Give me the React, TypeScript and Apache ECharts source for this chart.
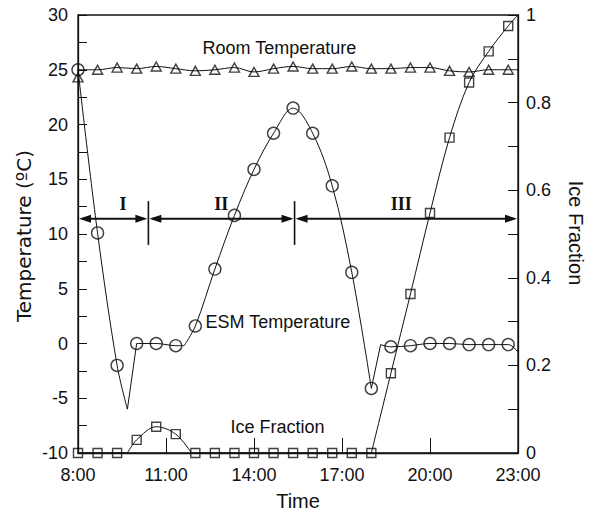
import React, { useEffect, useRef } from "react";
import * as echarts from "echarts";

// ---------- data ----------
const xTickLabels = ["8:00", "11:00", "14:00", "17:00", "20:00", "23:00"];

const markerTimes = [
  "8:00", "8:40", "9:20", "10:00", "10:40", "11:20", "12:00", "12:40",
  "13:20", "14:00", "14:40", "15:20", "16:00", "16:40", "17:20", "18:00",
  "18:40", "19:20", "20:00", "20:40", "21:20", "22:00", "22:40",
];

const roomTemp = [
  24.3, 25.0, 25.2, 25.1, 25.3, 25.1, 24.9, 25.0, 25.2, 24.8, 25.1, 25.3,
  25.1, 25.1, 25.3, 25.1, 25.1, 25.2, 25.2, 24.9, 24.8, 25.0, 25.0,
];

const esmTemp = [
  25.0, 10.1, -2.0, 0.0, 0.0, -0.2, 1.6, 6.8, 11.7, 15.9, 19.2, 21.5,
  19.2, 14.4, 6.5, -4.1, -0.3, -0.2, 0.0, 0.0, -0.1, -0.1, -0.1,
];

const iceFraction = [
  0, 0, 0, 0.03, 0.06, 0.043, 0, 0, 0, 0, 0, 0,
  0, 0, 0, 0, 0.182, 0.363, 0.548, 0.72, 0.846, 0.917, 0.975,
];

// curve pieces (smooth inside a piece, corners between pieces)
const roomCurve: [string, number][][] = [
  [
    ["8:00", 25.0], ["8:40", 25.0], ["9:20", 25.2], ["10:00", 25.1], ["10:40", 25.3],
    ["11:20", 25.1], ["12:00", 24.9], ["12:40", 25.0], ["13:20", 25.2], ["14:00", 24.8],
    ["14:40", 25.1], ["15:20", 25.3], ["16:00", 25.1], ["16:40", 25.1], ["17:20", 25.3],
    ["18:00", 25.1], ["18:40", 25.1], ["19:20", 25.2], ["20:00", 25.2], ["20:40", 24.9],
    ["21:20", 24.8], ["22:00", 25.0], ["22:40", 25.0], ["23:00", 25.0],
  ],
];

const esmCurve: [string, number][][] = [
  [["8:00", 25.0], ["8:40", 10.1], ["9:20", -2.0], ["9:41", -6.0]],
  [["9:41", -6.0], ["10:00", 0.0]],
  [["10:00", 0.0], ["10:40", 0.0], ["11:20", -0.2], ["11:37", -0.2]],
  [
    ["11:37", -0.2], ["12:00", 1.6], ["12:40", 6.8], ["13:20", 11.7], ["14:00", 15.9],
    ["14:40", 19.2], ["15:20", 21.5], ["16:00", 19.2], ["16:40", 14.4], ["17:20", 6.5],
    ["18:00", -4.1],
  ],
  [["18:00", -4.1], ["18:19", -0.1]],
  [
    ["18:19", -0.1], ["18:40", -0.3], ["19:20", -0.2], ["20:00", 0.0], ["20:40", 0.0],
    ["21:20", -0.1], ["22:00", -0.1], ["22:40", -0.1], ["23:00", -0.8],
  ],
];

const iceCurve: [string, number][][] = [
  [["8:00", 0], ["9:41", 0]],
  [["9:41", 0], ["10:00", 0.03], ["10:40", 0.06], ["11:20", 0.043], ["11:52", 0]],
  [["11:52", 0], ["18:00", 0]],
  [
    ["18:00", 0], ["18:40", 0.182], ["19:20", 0.363], ["20:00", 0.548], ["20:40", 0.72],
    ["21:20", 0.846], ["22:00", 0.917], ["22:40", 0.975], ["23:00", 1.0],
  ],
];

// ---------- helpers ----------
const parseT = (s: string) => {
  const [h, m] = s.split(":").map(Number);
  return h - 8 + m / 60;
};

const FONT = "Liberation Sans, Arial, sans-serif";
const WIDE = "DejaVu Sans, Verdana, sans-serif";
const SERIF = "Liberation Serif, Times New Roman, serif";
const INK = "#111";

function curveSeries(pieces: [string, number][][], yAxisIndex: number) {
  return pieces.map((piece) => ({
    type: "line",
    yAxisIndex,
    data: piece.map(([t, v]) => [parseT(t), v]),
    showSymbol: false,
    symbol: "none",
    smooth: piece.length > 2 ? 0.35 : false,
    lineStyle: { color: INK, width: 1 },
    z: 2,
    silent: true,
  }));
}

function markerSeries(values: number[], yAxisIndex: number, symbol: string, size: any) {
  return {
    type: "scatter",
    yAxisIndex,
    data: markerTimes.map((t, i) => [parseT(t), values[i]]),
    symbol,
    symbolSize: size,
    itemStyle: { color: "rgba(0,0,0,0)", borderColor: INK, borderWidth: 1.4 },
    z: 3,
    silent: true,
  };
}

export default function App() {
  const ref = useRef<HTMLDivElement>(null);

  useEffect(() => {
    if (!ref.current) return;
    const chart = echarts.init(ref.current, undefined, { renderer: "svg" });
    const axisLine = { show: true, onZero: false, lineStyle: { color: INK, width: 1.3 } };
    const labelStyle = { color: INK, fontSize: 18, fontFamily: FONT };

    chart.setOption({
      animation: false,
      grid: {
        left: 78,
        right: 81,
        top: 15,
        bottom: 63,
        show: true,
        borderColor: INK,
        borderWidth: 1.3,
        backgroundColor: "transparent",
      },
      xAxis: {
        type: "value",
        min: 0,
        max: 15,
        interval: 3,
        axisLine,
        axisTick: { show: true, inside: true, length: 15, lineStyle: { color: INK, width: 1 } },
        axisLabel: {
          ...labelStyle,
          margin: 13,
          formatter: (v: number) => xTickLabels[Math.round(v / 3)] ?? "",
        },
        splitLine: { show: false },
      },
      yAxis: [
        {
          type: "value",
          min: -10,
          max: 30,
          interval: 5,
          position: "left",
          axisLine,
          axisTick: { show: true, inside: true, length: 9, lineStyle: { color: INK, width: 1 } },
          minorTick: { show: true, splitNumber: 2, length: 9, lineStyle: { color: INK, width: 1 } },
          axisLabel: { ...labelStyle, margin: 10 },
          splitLine: { show: false },
          minorSplitLine: { show: false },
        },
        {
          type: "value",
          min: 0,
          max: 1,
          interval: 0.2,
          position: "right",
          axisLine,
          axisTick: { show: true, inside: true, length: 10, lineStyle: { color: INK, width: 1 } },
          minorTick: { show: true, splitNumber: 2, length: 10, lineStyle: { color: INK, width: 1 } },
          axisLabel: {
            ...labelStyle,
            margin: 8,
            formatter: (v: number) => String(+v.toFixed(1)),
          },
          splitLine: { show: false },
          minorSplitLine: { show: false },
        },
      ],
      series: [
        ...curveSeries(roomCurve, 0),
        ...curveSeries(esmCurve, 0),
        ...curveSeries(iceCurve, 1),
        markerSeries(roomTemp, 0, "triangle", [10, 9]),
        markerSeries(esmTemp, 0, "circle", 12),
        markerSeries(iceFraction, 1, "rect", 9),
      ],
    });

    const P = (t: string, v: number) =>
      chart.convertToPixel({ xAxisIndex: 0, yAxisIndex: 0 }, [parseT(t), v]) as number[];

    const graphics: any[] = [];
    const txt = (text: string, t: string, v: number, align: string, font = FONT, size = 18, weight = "normal") => {
      const [x, y] = P(t, v);
      graphics.push({
        type: "text",
        x,
        y,
        silent: true,
        style: {
          text,
          fill: INK,
          font: `${weight} ${size}px ${font}`,
          textAlign: align,
          textVerticalAlign: "middle",
        },
      });
    };

    txt("Room Temperature", "14:52", 27.0, "center");
    txt("ESM Temperature", "12:21", 2.0, "left");
    txt("Ice Fraction", "13:12", -7.6, "left");
    txt("I", "9:32", 12.75, "center", SERIF, 18, "bold");
    txt("II", "12:53", 12.75, "center", SERIF, 18, "bold");
    txt("III", "19:01", 12.75, "center", SERIF, 18, "bold");

    // phase arrows
    const arrowY = 11.4;
    const ranges: [string, string][] = [
      ["8:00", "10:24"],
      ["10:24", "15:23"],
      ["15:23", "23:00"],
    ];
    ranges.forEach(([a, b]) => {
      const [x1, y] = P(a, arrowY);
      const [x2] = P(b, arrowY);
      const head = 12;
      const hw = 4;
      graphics.push({
        type: "line",
        silent: true,
        shape: { x1: x1 + 4, y1: y, x2: x2 - 4, y2: y },
        style: { stroke: INK, lineWidth: 2 },
      });
      graphics.push({
        type: "polygon",
        silent: true,
        shape: { points: [[x1 + 1, y], [x1 + 1 + head, y - hw], [x1 + 1 + head, y + hw]] },
        style: { fill: INK },
      });
      graphics.push({
        type: "polygon",
        silent: true,
        shape: { points: [[x2 - 1, y], [x2 - 1 - head, y - hw], [x2 - 1 - head, y + hw]] },
        style: { fill: INK },
      });
    });
    ["10:24", "15:23"].forEach((t) => {
      const [x, yTop] = P(t, 13.0);
      const [, yBot] = P(t, 9.0);
      graphics.push({
        type: "line",
        silent: true,
        shape: { x1: x, y1: yTop, x2: x, y2: yBot },
        style: { stroke: INK, lineWidth: 1.6 },
      });
    });

    // axis titles
    graphics.push({
      type: "text",
      x: 24,
      y: 236,
      rotation: Math.PI / 2,
      silent: true,
      style: {
        text: "Temperature (ºC)",
        fill: INK,
        font: `normal 20px ${WIDE}`,
        textAlign: "center",
        textVerticalAlign: "middle",
      },
    });
    graphics.push({
      type: "text",
      x: 576,
      y: 233,
      rotation: -Math.PI / 2,
      silent: true,
      style: {
        text: "Ice Fraction",
        fill: INK,
        font: `normal 20px ${FONT}`,
        textAlign: "center",
        textVerticalAlign: "middle",
      },
    });
    graphics.push({
      type: "text",
      x: 298,
      y: 501,
      silent: true,
      style: {
        text: "Time",
        fill: INK,
        font: `normal 20px ${FONT}`,
        textAlign: "center",
        textVerticalAlign: "middle",
      },
    });

    chart.setOption({ graphic: graphics });

    return () => chart.dispose();
  }, []);

  return (
    <div
      ref={ref}
      style={{ position: "fixed", left: 0, top: 0, width: 599, height: 516, background: "#fff" }}
    />
  );
}
